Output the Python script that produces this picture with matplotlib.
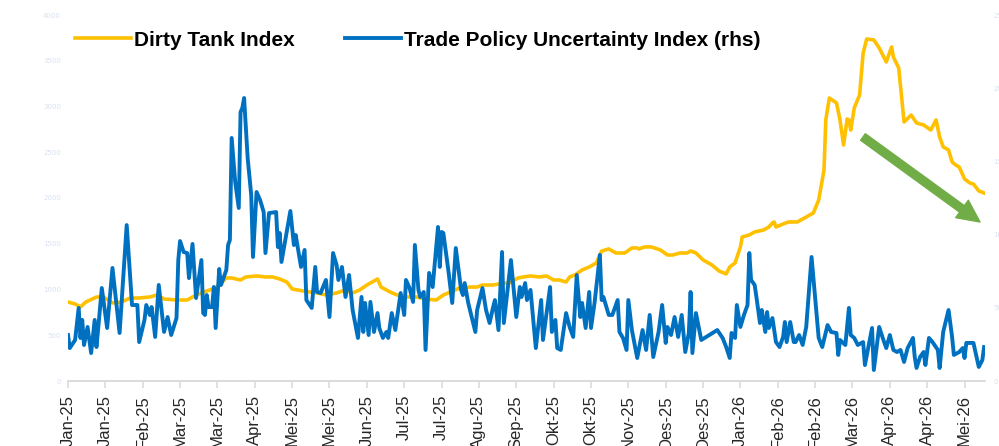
import matplotlib
matplotlib.use("Agg")
import matplotlib.pyplot as plt
import numpy as np

# days since 1 Jan 2025
dirty_days = [0, 4, 7, 10, 16, 20, 25, 30, 35, 40, 46, 50, 54, 61, 67, 72, 78, 83, 89, 92,
              97, 100, 106, 111, 115, 119, 123, 126, 132, 140, 145, 151, 156, 160, 164, 168,
              174, 176, 181, 185, 190, 196, 201, 207, 211, 215, 220, 226, 230, 233, 239, 245,
              248, 253, 256, 260, 265, 269, 273, 276, 280, 282, 285, 289, 293, 297, 300, 304,
              308, 313, 317, 320, 321, 324, 328, 333, 337, 340, 344, 348, 350, 353, 357, 362,
              366, 370, 372, 375, 378, 379, 383, 386, 391, 394, 396, 397, 398, 402, 405, 410,
              413, 416, 419, 422, 425, 426, 428, 432, 434, 436, 438, 439, 440, 442, 445, 447,
              449, 453, 456, 460, 463, 464, 467, 470, 474, 477, 481, 485, 488, 490, 492, 495,
              497, 499, 501, 504, 507, 509, 512, 515]
dirty_tank = [863, 842, 809, 863, 918, 918, 853, 863, 907, 907, 918, 940, 896, 885, 885, 940,
              984, 1016, 1126, 1126, 1104, 1137, 1148, 1137, 1137, 1115, 1082, 1006, 984, 962,
              940, 962, 995, 962, 995, 1049, 1115, 1027, 973, 940, 918, 918, 896, 885, 940, 973,
              1016, 1027, 1027, 1049, 1049, 1071, 1071, 1126, 1137, 1148, 1137, 1148, 1104, 1104,
              1082, 1137, 1159, 1213, 1246, 1290, 1421, 1443, 1399, 1399, 1454, 1454, 1443, 1465,
              1465, 1432, 1377, 1377, 1399, 1399, 1421, 1399, 1323, 1268, 1202, 1170, 1246, 1290,
              1465, 1574, 1596, 1629, 1650, 1683, 1727, 1738, 1683, 1716, 1738, 1738, 1771, 1803,
              1836, 1978, 2306, 2853, 3093, 3039, 2853, 2579, 2864, 2853, 2743, 2984, 3126, 3585,
              3738, 3727, 3640, 3487, 3651, 3541, 3421, 2831, 2907, 2820, 2798, 2743, 2853, 2667,
              2558, 2525, 2394, 2361, 2339, 2208, 2164, 2153, 2077, 2055]

tpu_days = [0, 1, 4, 6, 7, 8, 9, 11, 13, 15, 16, 17, 19, 22, 25, 29, 33, 36, 39, 40, 43, 44,
            46, 47, 49, 51, 54, 56, 58, 61, 62, 63, 65, 67, 68, 70, 72, 75, 76, 77, 78, 79, 81,
            82, 83, 85, 86, 89, 90, 91, 92, 94, 96, 97, 98, 99, 101, 103, 104, 106, 108, 110,
            111, 113, 117, 118, 119, 120, 125, 127, 128, 131, 133, 134, 137, 139, 140, 142, 145,
            147, 149, 151, 152, 154, 156, 158, 160, 163, 165, 166, 167, 169, 170, 172, 174, 175,
            177, 179, 180, 182, 184, 187, 189, 190, 192, 194, 195, 197, 198, 200, 201, 203, 205,
            208, 209, 210, 211, 214, 216, 218, 221, 222, 223, 225, 229, 230, 233, 235, 237, 239,
            240, 242, 244, 245, 249, 252, 254, 255, 257, 258, 260, 263, 266, 267, 271, 272, 274,
            275, 277, 280, 282, 284, 286, 288, 289, 291, 293, 294, 296, 299, 300, 301, 304, 306,
            309, 310, 312, 314, 315, 317, 320, 323, 325, 327, 329, 332, 334, 336, 337, 339, 341,
            343, 345, 347, 349, 350, 351, 353, 356, 365, 368, 370, 372, 373, 375, 376, 378, 380,
            382, 383, 384, 386, 387, 389, 390, 392, 393, 394, 396, 398, 400, 402, 403, 404, 406,
            408, 409, 411, 413, 415, 418, 422, 424, 427, 429, 432, 433, 434, 437, 439, 440, 442,
            444, 447, 448, 452, 453, 456, 458, 460, 462, 464, 466, 468, 470, 472, 475, 476, 477,
            479, 481, 482, 484, 486, 489, 490, 492, 495, 497, 498, 501, 503, 504, 505, 509, 512,
            514, 515]
tpu_index = [314, 225, 280, 499, 294, 417, 246, 369, 191, 417, 232, 362, 635, 362, 772, 328,
             1065, 519, 519, 266, 417, 519, 451, 505, 301, 656, 335, 437, 314, 430, 826, 956,
             881, 874, 703, 936, 567, 826, 464, 451, 587, 505, 505, 642, 362, 765, 656, 758, 929,
             963, 1660, 1359, 1182, 1837, 1865, 1933, 1523, 1270, 847, 1291, 1236, 1154, 874,
             1147, 1154, 915, 1011, 813, 1161, 929, 997, 779, 895, 553, 499, 779, 608, 601, 690,
             437, 874, 792, 690, 779, 574, 724, 485, 294, 574, 335, 533, 314, 540, 335, 464, 362,
             294, 335, 294, 464, 348, 601, 451, 690, 635, 540, 929, 622, 574, 608, 212, 738, 642,
             1052, 779, 1018, 1011, 738, 533, 908, 622, 587, 669, 533, 335, 485, 635, 485, 396,
             505, 553, 348, 881, 396, 826, 437, 642, 574, 669, 553, 622, 225, 553, 280, 642, 335,
             417, 225, 212, 464, 369, 301, 724, 437, 533, 362, 608, 362, 533, 861, 553, 574, 451,
             451, 553, 335, 294, 212, 553, 348, 157, 348, 212, 451, 164, 335, 519, 260, 369, 314,
             437, 301, 451, 198, 328, 608, 191, 464, 280, 348, 294, 232, 157, 328, 294, 519, 369,
             451, 519, 874, 690, 656, 574, 396, 485, 335, 471, 362, 430, 266, 232, 301, 403, 266,
             403, 266, 266, 314, 246, 369, 847, 294, 232, 382, 335, 328, 178, 280, 246, 499, 314,
             294, 246, 266, 109, 362, 75, 369, 294, 225, 314, 212, 198, 212, 130, 225, 294, 164,
             89, 164, 198, 109, 294, 266, 212, 89, 335, 485, 301, 178, 198, 225, 157, 260, 260,
             96, 143, 232]

tick_days = np.arange(0, 505, 21)
tick_labels = ["Jan-25", "Jan-25", "Feb-25", "Mar-25", "Mar-25", "Apr-25", "Mei-25", "Mei-25",
               "Jun-25", "Jul-25", "Jul-25", "Agu-25", "Sep-25", "Okt-25", "Okt-25", "Nov-25",
               "Des-25", "Des-25", "Jan-26", "Feb-26", "Feb-26", "Mar-26", "Apr-26", "Apr-26",
               "Mei-26"]

YELLOW = "#FFC000"
BLUE = "#0070C0"
GREEN = "#70AD47"
FAINT = "#D9E1F2"

W, H = 999, 446
fig = plt.figure(figsize=(W / 100, H / 100), dpi=100)
ax = fig.add_axes([68 / W, 1 - 381 / H, (985 - 68) / W, (381 - 15) / H])
ax2 = ax.twinx()

l1, = ax.plot(dirty_days, dirty_tank, color=YELLOW, lw=2.6, label="Dirty Tank Index",
              solid_joinstyle="round")
l2, = ax2.plot(tpu_days, tpu_index, color=BLUE, lw=2.8,
               label="Trade Policy Uncertainty Index (rhs)", solid_joinstyle="round")

ax.set_xlim(0, 515.5)
ax.set_ylim(0, 4000)
ax2.set_ylim(0, 2500)
ax.set_yticks(np.arange(0, 4001, 500))
ax2.set_yticks(np.arange(0, 2501, 500))
ax.set_xticks(tick_days)
ax.set_xticklabels(tick_labels, rotation=90, fontsize=12, color="#262626",
                   family="Liberation Sans")

for a in (ax, ax2):
    for s in a.spines.values():
        s.set_visible(False)
ax.spines["bottom"].set_visible(True)
ax.spines["bottom"].set_color("#D9D9D9")
ax.spines["bottom"].set_linewidth(1.3)
ax.tick_params(axis="x", length=5, width=1.1, color="#D9D9D9", pad=5)
ax.tick_params(axis="y", length=0, labelsize=5, labelcolor=FAINT, pad=5)
ax2.tick_params(axis="y", length=0, labelsize=5, labelcolor=FAINT, pad=6)

fig.legend(handles=[l1, l2], loc="center left", bbox_to_anchor=(75 / W, 1 - 40 / H),
           ncol=2, frameon=False, borderpad=0, borderaxespad=0,
           handlelength=2.7, handletextpad=0.15, columnspacing=2.4,
           prop={"family": "Liberation Sans", "weight": "bold", "size": 15})

ax2.annotate("", xy=(980 / W, 1 - 222 / H), xytext=(863 / W, 1 - 137 / H),
             xycoords="figure fraction", textcoords="figure fraction",
             arrowprops=dict(arrowstyle="simple,head_length=1.6,head_width=1.55,tail_width=0.58",
                             mutation_scale=10, color=GREEN, shrinkA=0, shrinkB=0))

fig.savefig("out.png", dpi=100)
